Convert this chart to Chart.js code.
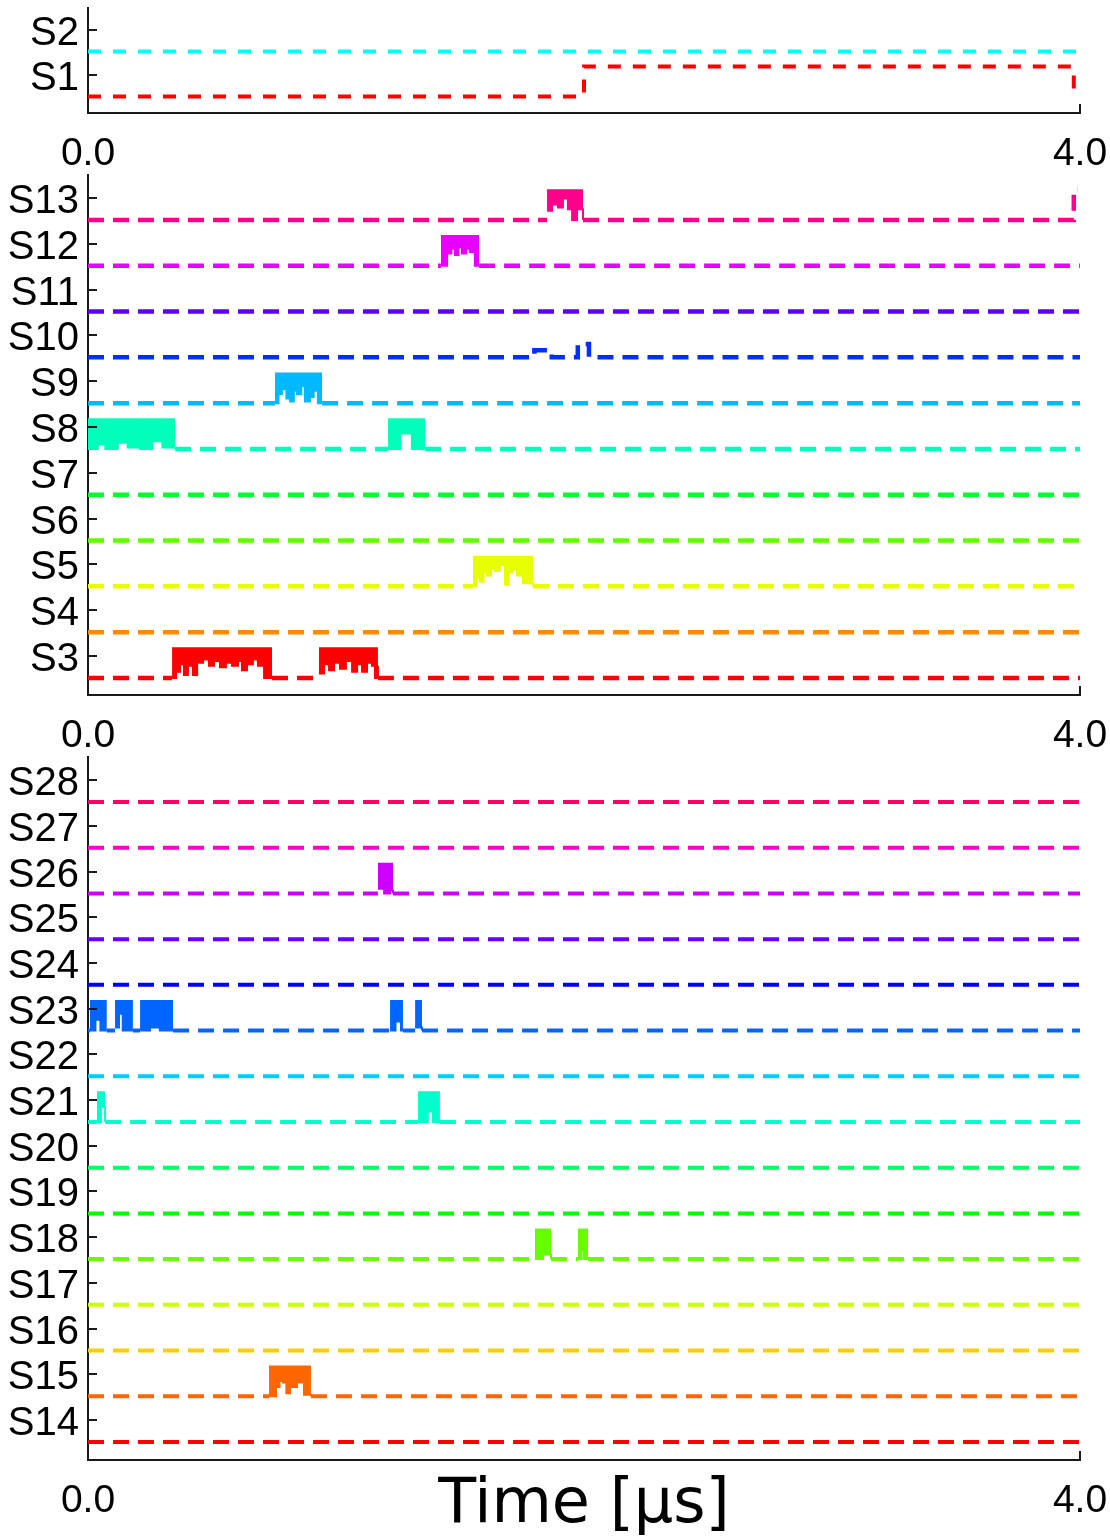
<!DOCTYPE html>
<html>
<head>
<meta charset="utf-8">
<title>State occupation vs time</title>
<script src="https://cdn.jsdelivr.net/npm/chart.js@4.4.1/dist/chart.umd.min.js"></script>
<style>
  html, body { margin: 0; padding: 0; background: #fff; }
  #wrap { position: relative; width: 1110px; height: 1538px; overflow: hidden; }
  .panel { position: absolute; left: 0; }
  .panel canvas { display: block; }
</style>
</head>
<body>
<div id="wrap">
  <div class="panel" style="top:0px"><canvas id="top" width="1110" height="180"></canvas></div>
  <div class="panel" style="top:160px"><canvas id="mid" width="1110" height="600"></canvas></div>
  <div class="panel" style="top:740px"><canvas id="bot" width="1110" height="798"></canvas></div>
</div>
<script>
// === data ===
const timeTicks = [0, 4];                       // µs
const statesTop = [1, 2];
const statesMid = [3, 4, 5, 6, 7, 8, 9, 10, 11, 12, 13];
const statesBot = [14, 15, 16, 17, 18, 19, 20, 21, 22, 23, 24, 25, 26, 27, 28];

// dashed traces: [time µs, level]  (0 = ground, 1 = excited)
const flatTrace = [[0, 0], [4, 0]];
const traceS1  = [[0, 0], [2.0, 1], [3.975, 0], [3.99, 0]];
const traceS2  = [[0, 0], [3.99, 0]];
const traceS10 = [[0, 0], [1.80, 0.23], [1.87, 0], [1.975, 0.43], [2.02, 0], [4, 0]];
const traceS13 = [[0, 0], [3.975, 1], [3.99, 1]];

// bursts: [time µs, lower edge of the filled band] (band reaches up to level 1)
const burstS3a  = [[0.339, 0], [0.355, 0.2], [0.371, 0.45], [0.387, 0.1], [0.403, 0.4], [0.423, 0.1], [0.44, 0.5], [0.464, 0.6], [0.488, 0.4], [0.508, 0.55], [0.532, 0.35], [0.556, 0.5], [0.581, 0.4], [0.605, 0.55], [0.621, 0.25], [0.641, 0.45], [0.665, 0.6], [0.685, 0.4], [0.71, 0], [0.742, 0]];
const burstS3b  = [[0.931, 0.15], [0.952, 0.45], [0.972, 0.25], [0.992, 0.5], [1.016, 0.3], [1.04, 0.55], [1.065, 0.2], [1.085, 0.45], [1.105, 0.2], [1.125, 0.5], [1.145, 0.4], [1.157, 0], [1.169, 0.4]];
const burstS5   = [[1.552, 0], [1.566, 0.3], [1.58, 0.15], [1.595, 0.45], [1.609, 0.35], [1.625, 0.6], [1.641, 0.5], [1.66, 0.7], [1.681, 0.05], [1.695, 0.45], [1.71, 0.55], [1.73, 0.35], [1.754, 0.1], [1.794, 0]];
const burstS8a  = [[0, 0], [0.04, 0.15], [0.07, 0], [0.12, 0.2], [0.16, 0.05], [0.21, 0], [0.26, 0.25], [0.30, 0.05], [0.351, 0]];
const burstS8b  = [[1.21, 0], [1.258, 0.5], [1.306, 0], [1.359, 0]];
const burstS9   = [[0.754, 0], [0.768, 0.3], [0.782, 0.45], [0.8, 0.15], [0.815, 0.05], [0.83, 0.4], [0.843, 0.3], [0.86, 0.55], [0.875, 0.05], [0.895, 0.2], [0.91, 0.4], [0.927, 0], [0.944, 0]];
const burstS12  = [[1.423, 0], [1.448, 0.4], [1.465, 0.55], [1.48, 0.35], [1.494, 0.6], [1.508, 0.4], [1.525, 0.55], [1.54, 0.45], [1.56, 0], [1.577, 0]];
const burstS13  = [[1.851, 0.3], [1.871, 0.5], [1.895, 0.4], [1.915, 0.7], [1.935, 0.35], [1.952, 0], [1.972, 0.35], [1.996, 0]];
const burstS15  = [[0.73, 0], [0.758, 0.3], [0.772, 0.5], [0.786, 0.45], [0.8, 0.1], [0.815, 0.3], [0.843, 0.45], [0.871, 0.05], [0.899, 0]];
const burstS18a = [[1.802, 0], [1.835, 0.15], [1.867, 0]];
const burstS18b = [[1.976, 0], [1.99, 0.3], [2.0, 0], [2.016, 0]];
const burstS21a = [[0.036, 0], [0.052, 0.5], [0.069, 0]];
const burstS21b = [[1.331, 0], [1.37, 0.35], [1.39, 0], [1.419, 0]];
const burstS23a = [[0.008, 0], [0.03, 0.35], [0.05, 0], [0.076, 0]];
const burstS23b = [[0.109, 0.1], [0.125, 0.55], [0.14, 0], [0.181, 0]];
const burstS23c = [[0.21, 0], [0.25, 0.1], [0.29, 0], [0.343, 0]];
const burstS23d = [[1.218, 0], [1.24, 0.3], [1.262, 0], [1.27, 0]];
const burstS23e = [[1.319, 0.1], [1.335, 0.1], [1.347, 0]];
const burstS26  = [[1.169, 0.15], [1.194, 0], [1.218, 0.1], [1.23, 0]];

// hsv colour wheel per panel
const colorsTop = ['#ff0000', '#00ffff'];
const colorsMid = ['#ff0000', '#ff8b00', '#e8ff00', '#5dff00', '#00ff2e', '#00ffba', '#00b9ff', '#002eff', '#5d00ff', '#e800ff', '#ff008b'];
const colorsBot = ['#ff0000', '#ff6600', '#ffcc00', '#ccff00', '#66ff00', '#00ff00', '#00ff66', '#00ffcc', '#00ccff', '#0066ff', '#0000ff', '#6600ff', '#cc00ff', '#ff00cc', '#ff0066'];

const traceOf  = { 1: traceS1, 2: traceS2, 10: traceS10, 13: traceS13 };
const burstsOf = {
  3: [burstS3a, burstS3b], 5: [burstS5], 8: [burstS8a, burstS8b], 9: [burstS9],
  12: [burstS12], 13: [burstS13], 15: [burstS15], 18: [burstS18a, burstS18b],
  21: [burstS21a, burstS21b], 23: [burstS23a, burstS23b, burstS23c, burstS23d, burstS23e], 26: [burstS26]
};

// === layout ===
const BASE_DROP = 0.48;   // ground level sits this far below the state's tick
const HIGH = 0.67;        // height of the excited level above ground
const AXIS = '#1a1a1a';
Chart.defaults.font.family = "'Liberation Sans', Arial, sans-serif";
Chart.defaults.color = '#000';

// dashed trace split around the bursts
function tracePoints(trace, gaps){
  const level = t => trace.reduce((v, p) => (p[0] <= t ? p[1] : v), trace[0][1]);
  const times = [...new Set([...trace.map(p => p[0]), ...gaps.flat()])].sort((a, b) => a - b);
  const pts = [];
  times.forEach(t => {
    if (gaps.some(([a, b]) => t > a && t < b)) return;
    pts.push([t, level(t)]);
    if (gaps.some(([a]) => a === t)) pts.push([t, null]);
  });
  return pts;
}

function buildDatasets(states, colors, dash, width){
  const sets = [];
  states.forEach((k, i) => {
    const base = k - BASE_DROP, color = colors[i];
    const bursts = burstsOf[k] || [];
    bursts.forEach(b => sets.push({
      data: b.map(([t, lo]) => ({x: t, y: base + lo*HIGH})),
      borderColor: color, backgroundColor: color, borderWidth: 2,
      stepped: true, pointRadius: 0, fill: {value: base + HIGH}
    }));
    const gaps = bursts.map(b => [b[0][0], b[b.length-1][0]]);
    sets.push({
      data: tracePoints(traceOf[k] || flatTrace, gaps).map(([t, v]) => ({x: t, y: v === null ? null : base + v*HIGH})),
      borderColor: color, borderWidth: width, borderDash: dash, borderCapStyle: 'butt',
      stepped: true, pointRadius: 0, fill: false, spanGaps: false
    });
  });
  return sets;
}

// tick marks point into the plot area
const inwardTicks = {
  id: 'inwardTicks',
  afterDraw(chart){
    const {ctx, chartArea: a, scales: {x, y}} = chart;
    ctx.save();
    ctx.strokeStyle = AXIS; ctx.lineWidth = 2;
    ctx.beginPath();
    y.ticks.forEach(t => { const py = Math.round(y.getPixelForValue(t.value)); ctx.moveTo(a.left, py); ctx.lineTo(a.left + 9, py); });
    x.ticks.forEach(t => { const px = Math.round(x.getPixelForValue(t.value)); ctx.moveTo(px, a.bottom); ctx.lineTo(px, a.bottom - 9); });
    ctx.stroke();
    ctx.restore();
  }
};

function makePanel(id, states, colors, yMin, yMax, padTop, axisHeight, dash, width, withTitle){
  new Chart(document.getElementById(id), {
    type: 'line',
    data: { datasets: buildDatasets(states, colors, dash, width) },
    plugins: [inwardTicks],
    options: {
      responsive: false, animation: false, events: [],
      layout: { padding: { top: padTop, right: 30, left: 0, bottom: 0 } },
      plugins: { legend: {display: false}, tooltip: {enabled: false} },
      scales: {
        x: {
          type: 'linear', min: 0, max: 4,
          afterBuildTicks: s => { s.ticks = timeTicks.map(v => ({value: v})); },
          afterFit: s => { s.height = axisHeight; s.paddingLeft = 0; s.paddingRight = 0; },
          grid: { display: true, drawOnChartArea: false, drawTicks: false },
          border: { display: true, color: AXIS, width: 2 },
          ticks: { callback: v => v.toFixed(1), font: {size: 39}, color: '#000', padding: 18, maxRotation: 0, autoSkip: false },
          title: withTitle
            ? { display: true, text: 'Time [μs]', font: {family: "'DejaVu Sans', sans-serif", size: 62}, color: '#000', padding: {top: 0, bottom: -5} }
            : { display: false }
        },
        y: {
          type: 'linear', min: yMin, max: yMax,
          afterBuildTicks: s => { s.ticks = states.map(v => ({value: v})); },
          afterFit: s => { s.width = 88; s.paddingTop = 0; s.paddingBottom = 0; },
          grid: { display: true, drawOnChartArea: false, drawTicks: false },
          border: { display: true, color: AXIS, width: 2 },
          ticks: { callback: v => 'S' + v, font: {size: 40}, color: '#000', padding: 9, labelOffset: 4, autoSkip: false }
        }
      }
    }
  });
}

makePanel('top', statesTop, colorsTop, 0.156, 2.489, 8, 67, [13, 12], 4, false);
makePanel('mid', statesMid, colorsMid, 2.1485, 13.50, 15, 65, [16, 9], 4.5, false);
makePanel('bot', statesBot, colorsBot, 13.125, 28.505, 17, 78, [16, 9], 4, true);
</script>
</body>
</html>
